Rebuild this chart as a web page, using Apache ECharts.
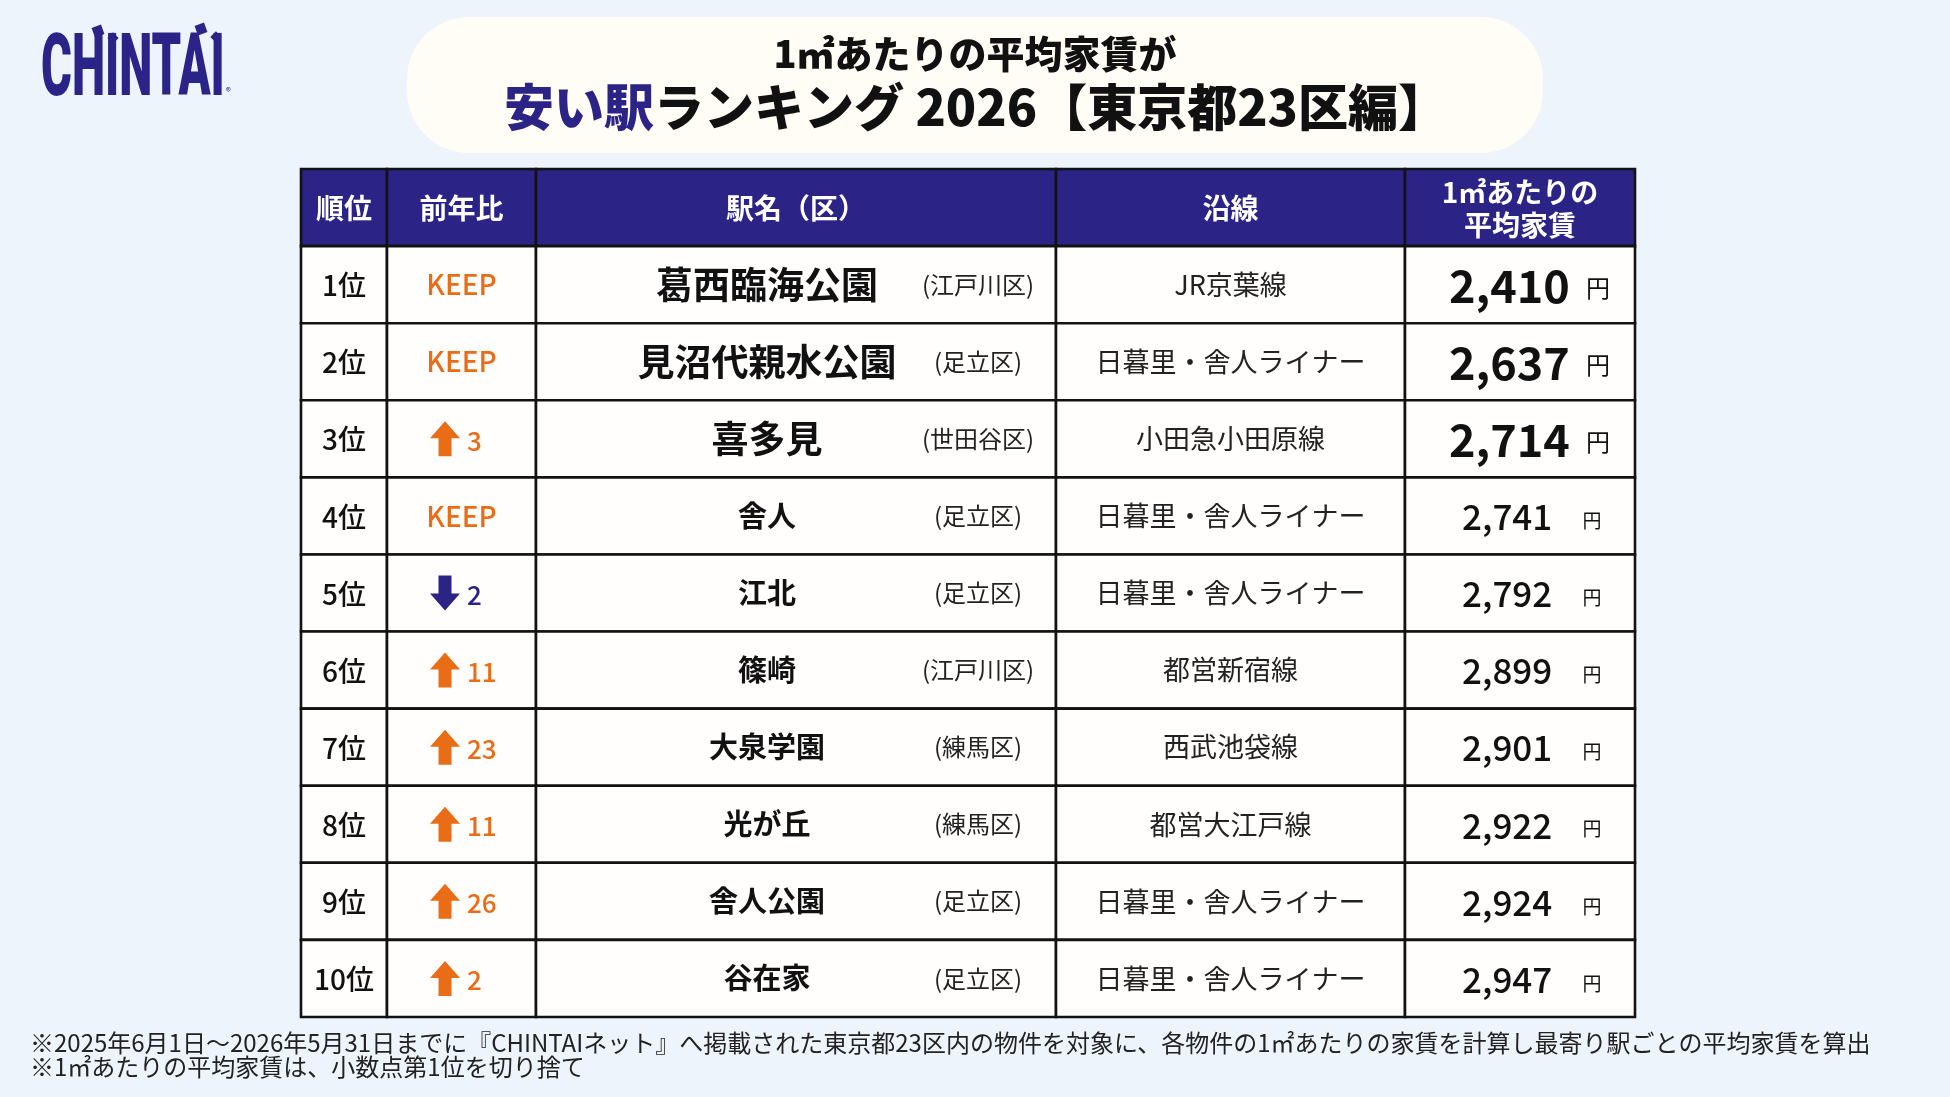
<!DOCTYPE html>
<html>
<head>
<meta charset="utf-8">
<title>1㎡あたりの平均家賃が安い駅ランキング 2026</title>
<script src="https://cdn.jsdelivr.net/npm/echarts@6/dist/echarts.min.js"></script>
<style>
	html, body { margin: 0; padding: 0; background: #eef4fb; }
	#main { width: 1950px; height: 1097px; }
</style>
</head>
<body>
<div id="main"></div>
<script>
// データ
var headers = ['順位', '前年比', '駅名（区）', '沿線', '1㎡あたりの\n平均家賃'];
var ranks = ['1位', '2位', '3位', '4位', '5位', '6位', '7位', '8位', '9位', '10位'];
var changeType = ['keep', 'keep', 'up', 'keep', 'down', 'up', 'up', 'up', 'up', 'up'];
var changeValue = [0, 0, 3, 0, 2, 11, 23, 11, 26, 2];
var stations = ['葛西臨海公園', '見沼代親水公園', '喜多見', '舎人', '江北', '篠崎', '大泉学園', '光が丘', '舎人公園', '谷在家'];
var wards = ['(江戸川区)', '(足立区)', '(世田谷区)', '(足立区)', '(足立区)', '(江戸川区)', '(練馬区)', '(練馬区)', '(足立区)', '(足立区)'];
var lines = ['JR京葉線', '日暮里・舎人ライナー', '小田急小田原線', '日暮里・舎人ライナー', '日暮里・舎人ライナー', '都営新宿線', '西武池袋線', '都営大江戸線', '日暮里・舎人ライナー', '日暮里・舎人ライナー'];
var rents = [2410, 2637, 2714, 2741, 2792, 2899, 2901, 2922, 2924, 2947];

var notes = [
	'※2025年6月1日〜2026年5月31日までに『CHINTAIネット』へ掲載された東京都23区内の物件を対象に、各物件の1㎡あたりの家賃を計算し最寄り駅ごとの平均家賃を算出',
	'※1㎡あたりの平均家賃は、小数点第1位を切り捨て'
];

// 見た目
var NAVY = '#2b2386';
var ORANGE = '#e96c17';
var FONT = '"Noto Sans CJK JP", "Noto Sans", sans-serif';
var colEdges = [0, 86, 235, 755, 1104, 1334]; //列の境界（表の左端から）

function font(weight, size) {
	return weight + ' ' + size + 'px ' + FONT;
}

function txt(text, x, y, f, color, align) {
	return {
		type : 'text',
		style : {
			text : text,
			x : x,
			y : y,
			font : f,
			fill : color,
			align : align || 'center',
			verticalAlign : 'middle'
		}
	};
}

function arrow(cx, cy, up, color) {
	var hw = 15, hh = 17, sw = 6.5, total = 35;
	var t = cy - total / 2, b = cy + total / 2;
	var pts;
	if (up) {
		pts = [[cx, t], [cx + hw, t + hh], [cx + sw, t + hh], [cx + sw, b], [cx - sw, b], [cx - sw, t + hh], [cx - hw, t + hh]];
	} else {
		pts = [[cx, b], [cx + hw, b - hh], [cx + sw, b - hh], [cx + sw, t], [cx - sw, t], [cx - sw, b - hh], [cx - hw, b - hh]];
	}
	return { type : 'polygon', shape : { points : pts }, style : { fill : color } };
}

function renderRow(params, api) {
	var i = api.value(1);
	var cy = api.coord([0, i])[1];
	var h = api.size([0, 1])[1];
	var xs = colEdges.map(function(e) { return api.coord([e, i])[0]; });
	var top = cy - h / 2;
	var children = [];
	for (var k = 0; k < 5; k++) {
		children.push({
			type : 'rect',
			shape : { x : xs[k], y : top, width : xs[k + 1] - xs[k], height : h },
			style : { fill : i === 0 ? NAVY : '#fffefd', stroke : '#121212', lineWidth : 2.6 }
		});
	}
	if (i === 0) {
		for (var k = 0; k < 5; k++) {
			var t = txt(headers[k], (xs[k] + xs[k + 1]) / 2, cy + 1, font(700, 28), '#fff');
			t.style.lineHeight = 33;
			children.push(t);
		}
		return { type : 'group', children : children };
	}
	var r = i - 1;
	var big = r < 3;
	// 順位
	children.push(txt(ranks[r], (xs[0] + xs[1]) / 2, cy + 1, font(500, 28), '#111'));
	// 前年比
	if (changeType[r] === 'keep') {
		children.push(txt('KEEP', (xs[1] + xs[2]) / 2, cy, font(500, 28), ORANGE));
	} else {
		var up = changeType[r] === 'up';
		var c = up ? ORANGE : NAVY;
		children.push(arrow(xs[1] + 58, cy, up, c));
		children.push(txt(String(changeValue[r]), xs[1] + 80, cy + 2, font(500, 26), c, 'left'));
	}
	// 駅名と区
	children.push(txt(stations[r], xs[2] + 231, cy, font(700, big ? 37 : 29), '#111'));
	children.push(txt(wards[r], xs[2] + 442, cy, font(400, 24), '#222'));
	// 沿線
	children.push(txt(lines[r], (xs[3] + xs[4]) / 2, cy, font(400, 27), '#222'));
	// 家賃
	var s = rents[r].toLocaleString('en-US');
	if (big) {
		children.push(txt(s, xs[4] + 44, cy + 1, font(700, 45), '#111', 'left'));
		children.push(txt('円', xs[4] + 193, cy + 3, font(400, 24), '#111'));
	} else {
		children.push(txt(s, xs[4] + 57, cy + 1, font(500, 35), '#111', 'left'));
		children.push(txt('円', xs[4] + 187, cy + 5, font(400, 19), '#111'));
	}
	return { type : 'group', children : children };
}

var rowData = [[0, 0]];
for (var i = 0; i < ranks.length; i++) {
	rowData.push([0, i + 1]);
}

var myChart = echarts.init(document.getElementById('main'));
var option = {
	backgroundColor : '#eef4fb',
	animation : false,
	grid : { left : 301, top : 169, width : 1334, height : 848 },
	xAxis : { type : 'value', min : 0, max : 1334, show : false },
	yAxis : {
		type : 'category',
		inverse : true,
		show : false,
		data : ['header'].concat(ranks)
	},
	graphic : [
		// タイトルの枠
		{
			type : 'rect',
			shape : { x : 407, y : 17, width : 1136, height : 136, r : 62 },
			style : { fill : '#fffdf6' }
		},
		{
			type : 'text',
			style : {
				text : '1㎡あたりの平均家賃が',
				x : 975, y : 54,
				font : font(900, 38),
				fill : '#111',
				align : 'center',
				verticalAlign : 'middle'
			}
		},
		{
			type : 'text',
			style : {
				text : '{a|安い駅}{b|ランキング 2026【東京都23区編】}',
				x : 976, y : 107,
				align : 'center',
				verticalAlign : 'middle',
				rich : {
					a : { fill : NAVY, fontSize : 50, fontWeight : 900, fontFamily : FONT },
					b : { fill : '#111', fontSize : 50, fontWeight : 900, fontFamily : FONT }
				}
			}
		},
		// ロゴ
		{
			type : 'text',
			x : 41, y : 73,
			scaleX : 0.535,
			style : {
				text : 'CHINTAI',
				x : 0, y : 0,
				font : '900 88px Roboto, "DejaVu Sans", sans-serif',
				fill : '#2b2488',
				align : 'left',
				verticalAlign : 'middle'
			}
		},
		{ type : 'rect', x : 98, y : 31, rotation : 0.35, shape : { x : -5, y : -5, width : 10, height : 10 }, style : { fill : '#2b2488' } },
		{ type : 'rect', x : 113, y : 38, rotation : 0.8, shape : { x : -4, y : -4, width : 8, height : 8 }, style : { fill : '#2b2488' } },
		{ type : 'rect', x : 201, y : 29, rotation : 0.35, shape : { x : -5, y : -5, width : 10, height : 10 }, style : { fill : '#2b2488' } },
		{ type : 'rect', x : 216, y : 37, rotation : 0.8, shape : { x : -4, y : -4, width : 8, height : 8 }, style : { fill : '#2b2488' } },
		{
			type : 'text',
			style : { text : '®', x : 226, y : 91, font : '10px ' + FONT, fill : '#2b2488', align : 'left', verticalAlign : 'middle' }
		},
		// 注記
		{
			type : 'text',
			style : { text : notes[0], x : 30, y : 1043, font : font(400, 24), fill : '#222', align : 'left', verticalAlign : 'middle' }
		},
		{
			type : 'text',
			style : { text : notes[1], x : 30, y : 1067, font : font(400, 24), fill : '#222', align : 'left', verticalAlign : 'middle' }
		}
	],
	series : [ {
		type : 'custom',
		renderItem : renderRow,
		encode : { x : 0, y : 1 },
		data : rowData,
		silent : true
	} ]
};
myChart.setOption(option);
</script>
</body>
</html>
